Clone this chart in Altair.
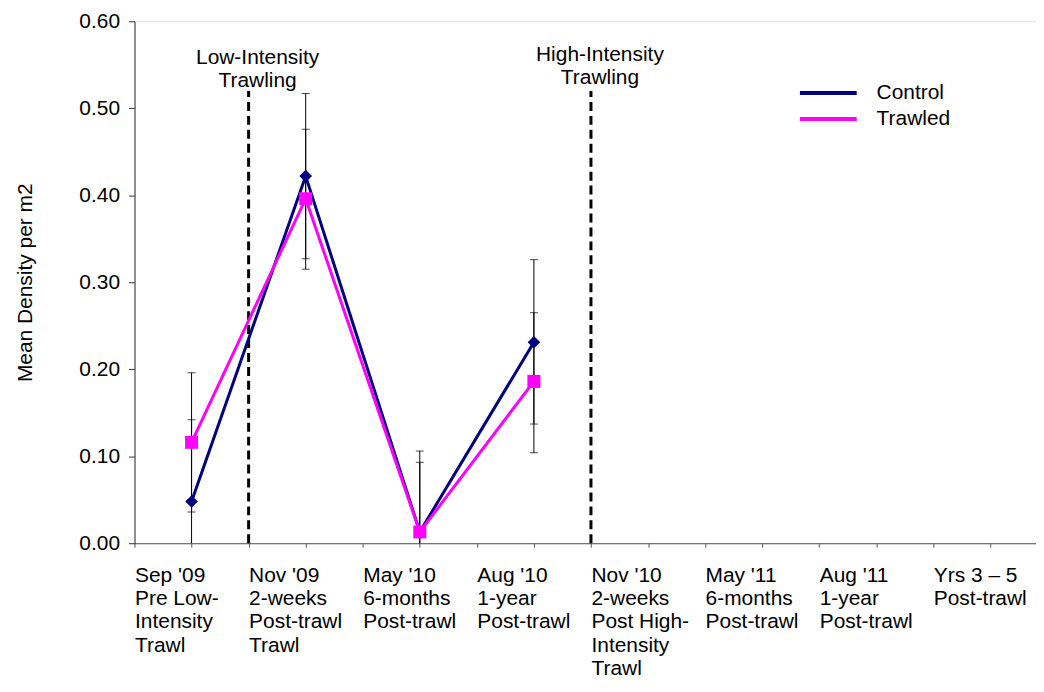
import json
import altair as alt
import pandas as pd

# ---- data ----
series_names = ["Control", "Trawled"]
series_colors = ["#000080", "#FF00FF"]

category_labels = [
    "Sep '09|Pre Low-|Intensity|Trawl",
    "Nov '09|2-weeks|Post-trawl|Trawl",
    "May '10|6-months|Post-trawl",
    "Aug '10|1-year|Post-trawl",
    "Nov '10|2-weeks|Post High-|Intensity|Trawl",
    "May '11|6-months|Post-trawl",
    "Aug '11|1-year|Post-trawl",
    "Yrs 3 \u2013 5|Post-trawl",
]
sampled_idx = [0, 1, 2, 3]

control_mean = [0.048, 0.422, 0.013, 0.231]
control_low = [-0.046, 0.327, -0.080, 0.137]
control_high = [0.142, 0.517, 0.106, 0.326]

trawled_mean = [0.116, 0.396, 0.013, 0.186]
trawled_low = [0.036, 0.315, -0.067, 0.104]
trawled_high = [0.196, 0.476, 0.093, 0.265]

event_labels = ["Low-Intensity\nTrawling", "High-Intensity\nTrawling"]
event_pos = [1, 4]  # boundaries between sampling periods

y_ticks = [0.0, 0.1, 0.2, 0.3, 0.4, 0.5, 0.6]

# ---- build tables ----
rows = []
for name, m, lo, hi in [
    ("Control", control_mean, control_low, control_high),
    ("Trawled", trawled_mean, trawled_low, trawled_high),
]:
    for i, mv, l, h in zip(sampled_idx, m, lo, hi):
        rows.append({"series": name, "x": i + 0.5, "mean": mv, "low": l, "high": h})
df = pd.DataFrame(rows)
events = pd.DataFrame({"x": event_pos, "label": event_labels})

FONT = "Liberation Sans"
FS = 21
TOP = 12
W, H = 905, 524

xscale = alt.Scale(domain=[0, 7.9], nice=False, zero=False)
yscale = alt.Scale(domain=[0, 0.6], nice=False)
cscale = alt.Scale(domain=series_names, range=series_colors)

label_expr = (
    "datum.value % 1 == 0 ? split("
    + json.dumps(category_labels, ensure_ascii=False)
    + "[datum.value], '|') : ''"
)

x_axis = alt.Axis(
    values=[i * 0.5 for i in range(16)],
    labelExpr=label_expr,
    labelAlign="left",
    labelBaseline="top",
    labelFontSize=FS,
    labelLineHeight=23.5,
    labelPadding=17,
    labelFlush=False,
    labelOverlap=False,
    labelBound=False,
    tickSize=4,
    domainColor="#555555",
    tickColor="#555555",
    labelColor="black",
    grid=False,
    title=None,
)
y_axis = alt.Axis(
    values=y_ticks,
    format=".2f",
    labelFontSize=FS,
    labelPadding=9,
    tickSize=6,
    domainColor="#333333",
    tickColor="#333333",
    labelColor="black",
    grid=False,
    title="Mean Density per m2",
    titleFontSize=FS,
    titleFontWeight="normal",
    titleColor="black",
    titlePadding=44,
)

base = alt.Chart(df)

# error bars
err_rule = base.mark_rule(color="black", strokeWidth=1, clip=True).encode(
    x=alt.X("x:Q", scale=xscale, axis=x_axis),
    y=alt.Y("low:Q", scale=yscale, axis=y_axis),
    y2="high:Q",
)
cap_lo = base.mark_tick(color="black", thickness=1, size=8, orient="horizontal", clip=True).encode(
    x=alt.X("x:Q", scale=xscale), y=alt.Y("low:Q", scale=yscale)
)
cap_hi = base.mark_tick(color="black", thickness=1, size=8, orient="horizontal", clip=True).encode(
    x=alt.X("x:Q", scale=xscale), y=alt.Y("high:Q", scale=yscale)
)

# event dashed lines
dash = alt.Chart(events).mark_rule(color="black", strokeWidth=3, strokeDash=[9, 5]).encode(
    x=alt.X("x:Q", scale=xscale),
    y=alt.datum(0),
    y2=alt.value(90 - 8 - TOP),
)
ev_layers = []
for lab, ypix in zip(event_labels, [57 - 8 - TOP, 54 - 8 - TOP]):
    ev_layers.append(
        alt.Chart(events).transform_filter(alt.datum.label == lab).mark_text(
            font=FONT, fontSize=FS, color="black", lineBreak="\n", lineHeight=23,
            baseline="middle", align="center", dx=9,
        ).encode(
            x=alt.X("x:Q", scale=xscale),
            y=alt.value(ypix),
            text="label:N",
        )
    )

lines = base.mark_line(strokeWidth=3).encode(
    x=alt.X("x:Q", scale=xscale),
    y=alt.Y("mean:Q", scale=yscale),
    color=alt.Color("series:N", scale=cscale, legend=None),
)

points = []
for name, shape, size in [("Control", "diamond", 160), ("Trawled", "square", 170)]:
    points.append(
        base.transform_filter(alt.datum.series == name)
        .mark_point(shape=shape, filled=True, size=size, opacity=1)
        .encode(
            x=alt.X("x:Q", scale=xscale),
            y=alt.Y("mean:Q", scale=yscale),
            color=alt.Color("series:N", scale=cscale, legend=None),
        )
    )

# custom legend
leg_layers = []
for i, name in enumerate(series_names):
    ldf = pd.DataFrame({"series": [name]})
    ypix = 92 - 8 - TOP + i * 26
    leg_layers.append(
        alt.Chart(ldf).mark_rule(strokeWidth=4).encode(
            x=alt.value(668), x2=alt.value(725), y=alt.value(ypix),
            color=alt.Color("series:N", scale=cscale, legend=None),
        )
    )
    leg_layers.append(
        alt.Chart(ldf).mark_text(font=FONT, fontSize=FS, align="left", baseline="middle", color="black").encode(
            x=alt.value(745), y=alt.value(ypix), text="series:N"
        )
    )

chart = alt.layer(
    err_rule, cap_lo, cap_hi, dash, *ev_layers, lines, *points, *leg_layers
).properties(
    width=W,
    height=H,
    autosize=alt.AutoSizeParams(type="none"),
    padding={"left": 127, "top": TOP, "right": 0, "bottom": 140},
).configure_view(stroke=None).configure(font=FONT).configure_axis(labelFont=FONT, titleFont=FONT)

chart.save("out.html", embed_options={"renderer": "svg", "actions": False})
